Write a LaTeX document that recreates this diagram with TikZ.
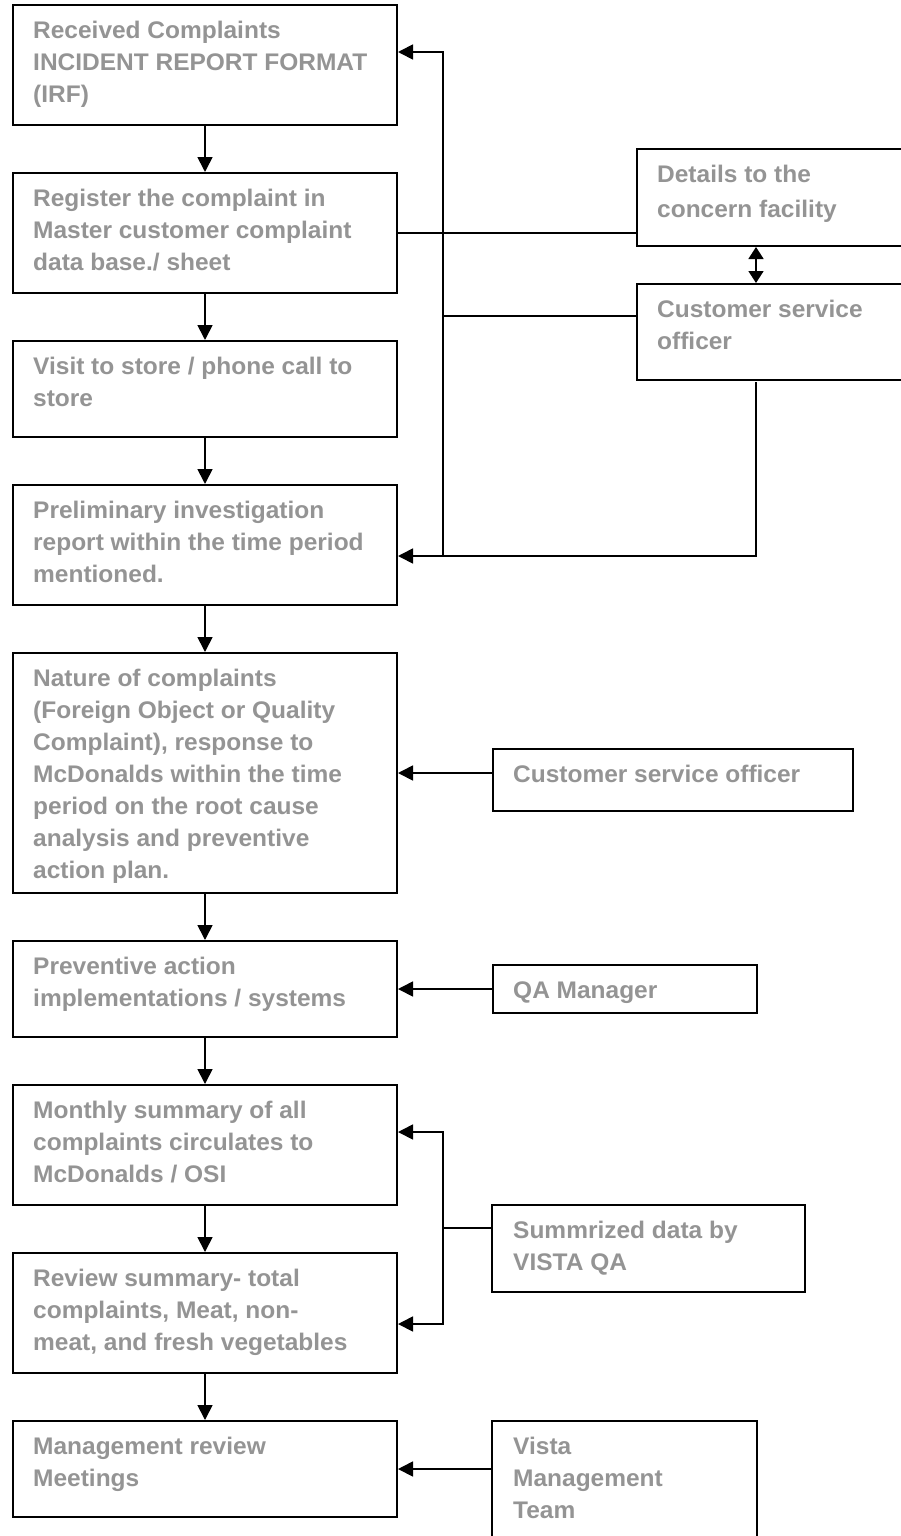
\documentclass[tikz,border=0pt]{standalone}
\usepackage{fontspec}
\newfontfamily\lab[FakeStretch=1.02]{Liberation Sans}
\usetikzlibrary{arrows.meta,calc}
\definecolor{txtgray}{RGB}{148,148,148}
\tikzset{
  box/.style={draw=black, line width=2pt, inner sep=0pt, anchor=north west, rectangle},
  txt/.style={anchor=base west, inner sep=0pt, text=txtgray, font=\lab\bfseries\fontsize{24}{32}\selectfont},
  txtd/.style={txt, font=\lab\bfseries\fontsize{24}{35}\selectfont},
  conn/.style={draw=black, line width=1.7pt},
  arr/.style={conn, -{Triangle[length=15pt,width=15pt]}},
  darr/.style={conn, {Triangle[length=12pt,width=15pt]}-{Triangle[length=12pt,width=15pt]}},
}
\newcommand{\lines}[1]{\begin{tabular}[t]{@{}l@{}}#1\end{tabular}}
\begin{document}
\begin{tikzpicture}[x=1pt,y=-1pt]
\clip (0,0) rectangle (901,1536);
\fill[white] (0,0) rectangle (901,1536);
% left column boxes
\node[box, minimum width=384pt, minimum height=120pt] (b1) at (12,4) {};
\node[box, minimum width=384pt, minimum height=120pt] (b2) at (12,172) {};
\node[box, minimum width=384pt, minimum height=96pt]  (b3) at (12,340) {};
\node[box, minimum width=384pt, minimum height=120pt] (b4) at (12,484) {};
\node[box, minimum width=384pt, minimum height=240pt] (b5) at (12,652) {};
\node[box, minimum width=384pt, minimum height=96pt]  (b6) at (12,940) {};
\node[box, minimum width=384pt, minimum height=120pt] (b7) at (12,1084) {};
\node[box, minimum width=384pt, minimum height=120pt] (b8) at (12,1252) {};
\node[box, minimum width=384pt, minimum height=96pt]  (b9) at (12,1420) {};
% right boxes
\node[box, minimum width=300pt, minimum height=97pt] (det) at (636,148) {};
\node[box, minimum width=300pt, minimum height=96pt] (cso) at (636,283) {};
\node[box, minimum width=360pt, minimum height=62pt] (cso2) at (492,748) {};
\node[box, minimum width=264pt, minimum height=48pt] (qa) at (492,964) {};
\node[box, minimum width=313pt, minimum height=87pt] (sum) at (491,1204) {};
\node[box, minimum width=265pt, minimum height=140pt] (vis) at (491,1420) {};
% texts
\node[txt] (t1) at (33,38.5) {\lines{Received Complaints\\INCIDENT REPORT FORMAT\\(IRF)}};
\node[txt] (t2) at (33,206.5) {\lines{Register the complaint in\\Master customer complaint\\data base./ sheet}};
\node[txt] (t3) at (33,374.5) {\lines{Visit to store / phone call to\\store}};
\node[txt] (t4) at (33,518.5) {\lines{Preliminary investigation\\report within the time period\\mentioned.}};
\node[txt] (t5) at (33,686.5) {\lines{Nature of complaints\\(Foreign Object or Quality\\Complaint), response to\\McDonalds within the time\\period on the root cause\\analysis and preventive\\action plan.}};
\node[txt] (t6) at (33,974.5) {\lines{Preventive action\\implementations / systems}};
\node[txt] (t7) at (33,1118.5) {\lines{Monthly summary of all\\complaints circulates to\\McDonalds / OSI}};
\node[txt] (t8) at (33,1286.5) {\lines{Review summary- total\\complaints, Meat, non-\\meat, and fresh vegetables}};
\node[txt] (t9) at (33,1454.5) {\lines{Management review\\Meetings}};
\node[txtd] (td) at (657,182.5) {\lines{Details to the\\concern facility}};
\node[txt] (tc) at (657,317.5) {\lines{Customer service\\officer}};
\node[txt] (tc2) at (513,782.5) {\lines{Customer service officer}};
\node[txt] (tq) at (513,998.5) {\lines{QA Manager}};
\node[txt] (ts) at (513,1238.5) {\lines{Summrized data by\\VISTA QA}};
\node[txt] (tv) at (513,1454.5) {\lines{Vista\\Management\\Team}};
% main flow arrows
\draw[arr] (b1.south) -- (b2.north);
\draw[arr] (b2.south) -- (b3.north);
\draw[arr] (b3.south) -- (b4.north);
\draw[arr] (b4.south) -- (b5.north);
\draw[arr] (b5.south) -- (b6.north);
\draw[arr] (b6.south) -- (b7.north);
\draw[arr] (b7.south) -- (b8.north);
\draw[arr] (b8.south) -- (b9.north);
% upper feedback network
\coordinate (j1) at (443,52);
\coordinate (j2) at (443,556);
\coordinate (j3) at (443,316);
\coordinate (k) at (756,382);
\draw[arr] (j2) -- (j1) -- (b1.east |- j1);
\draw[conn] (b2.east) -- (b2.east -| det.west);
\draw[conn] (j3) -- (j3 -| cso.west);
\draw[darr] (det.south -| k) -- (cso.north -| k);
\draw[arr] (k) |- (b4.east |- j2);
% lower side inputs
\draw[arr] ([yshift=7pt]cso2.west) -- ([yshift=7pt]cso2.west -| b5.east);
\draw[arr] (qa.west) -- (qa.west -| b6.east);
\coordinate (m1) at (443,1132);
\coordinate (m2) at (443,1324);
\coordinate (m3) at (443,1228);
\draw[arr] (m3) -- (m1) -- (m1 -| b7.east);
\draw[arr] (m3) -- (m2) -- (m2 -| b8.east);
\draw[conn] (m3) -- (m3 -| sum.west);
\draw[arr] (vis.west |- b9.east) -- (b9.east);
\end{tikzpicture}
\end{document}
